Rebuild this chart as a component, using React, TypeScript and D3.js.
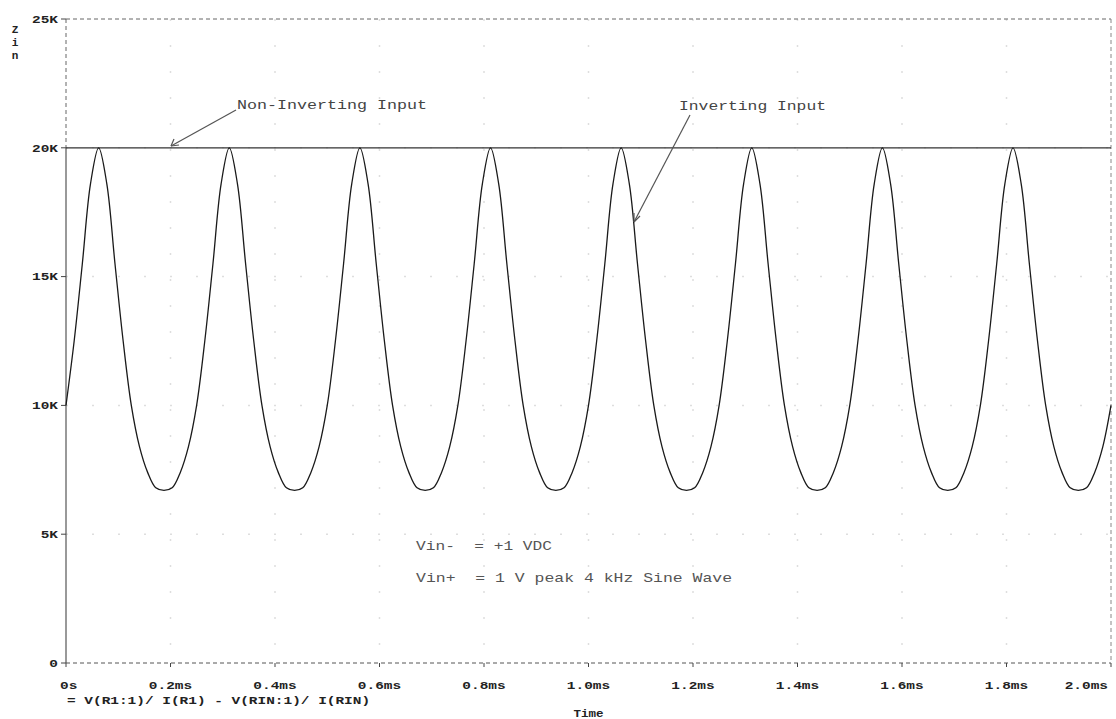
import React from "react";
import * as d3 from "d3";

// Zin (kOhm) sampled every 0.015625 ms (1/16 of the 4 kHz period)
const zinInverting: number[] = [
  10, 12.5, 15.5, 18.6, 20, 18.6, 15.5, 12.5, 10, 8.4, 7.4, 6.8, 6.7, 6.8, 7.4, 8.4,
  10, 12.5, 15.5, 18.6, 20, 18.6, 15.5, 12.5, 10, 8.4, 7.4, 6.8, 6.7, 6.8, 7.4, 8.4,
  10, 12.5, 15.5, 18.6, 20, 18.6, 15.5, 12.5, 10, 8.4, 7.4, 6.8, 6.7, 6.8, 7.4, 8.4,
  10, 12.5, 15.5, 18.6, 20, 18.6, 15.5, 12.5, 10, 8.4, 7.4, 6.8, 6.7, 6.8, 7.4, 8.4,
  10, 12.5, 15.5, 18.6, 20, 18.6, 15.5, 12.5, 10, 8.4, 7.4, 6.8, 6.7, 6.8, 7.4, 8.4,
  10, 12.5, 15.5, 18.6, 20, 18.6, 15.5, 12.5, 10, 8.4, 7.4, 6.8, 6.7, 6.8, 7.4, 8.4,
  10, 12.5, 15.5, 18.6, 20, 18.6, 15.5, 12.5, 10, 8.4, 7.4, 6.8, 6.7, 6.8, 7.4, 8.4,
  10, 12.5, 15.5, 18.6, 20, 18.6, 15.5, 12.5, 10, 8.4, 7.4, 6.8, 6.7, 6.8, 7.4, 8.4,
  10,
];
const sampleStepMs = 0.015625;
const zinNonInverting: number[] = [20, 20];
const nonInvTimes: number[] = [0, 2.0];

const xTicks: number[] = [0, 0.2, 0.4, 0.6, 0.8, 1.0, 1.2, 1.4, 1.6, 1.8, 2.0];
const xTickLabels: string[] = ["0s", "0.2ms", "0.4ms", "0.6ms", "0.8ms", "1.0ms", "1.2ms", "1.4ms", "1.6ms", "1.8ms", "2.0ms"];
const yTicks: number[] = [0, 5, 10, 15, 20, 25];
const yTickLabels: string[] = ["0", "5K", "10K", "15K", "20K", "25K"];

const left = 66, right = 1111, top = 19, bottom = 663;
const mono = "'Liberation Mono', 'DejaVu Sans Mono', monospace";

export default function App() {
  const x = d3.scaleLinear().domain([0, 2.0]).range([left, right]);
  const y = d3.scaleLinear().domain([0, 25]).range([bottom, top]);
  const line = d3
    .line<number>()
    .x((_, i) => x(i * sampleStepMs))
    .y((d) => y(d))
    .curve(d3.curveCatmullRom);
  const flat = d3
    .line<number>()
    .x((_, i) => x(nonInvTimes[i]))
    .y((d) => y(d));

  const cw = 8.66;
  const n = xTicks.length;
  return (
    <svg width={1116} height={719} style={{ position: "absolute", left: 0, top: 0, background: "#fff" }}>
      {/* grid dots */}
      {xTicks.slice(1, -1).map((t) => (
        <line key={"gx" + t} x1={x(t)} x2={x(t)} y1={top} y2={bottom} stroke="#dedede" strokeWidth={1.5} strokeDasharray="2,24" />
      ))}
      {yTicks.slice(1, -1).map((v) => (
        <line key={"gy" + v} x1={left} x2={right} y1={y(v)} y2={y(v)} stroke="#dedede" strokeWidth={1.5} strokeDasharray="2,24" />
      ))}
      {/* frame */}
      <line x1={left} x2={right} y1={top} y2={top} stroke="#666" strokeDasharray="4,3" />
      <line x1={right} x2={right} y1={top} y2={bottom} stroke="#888" strokeDasharray="4,3" />
      <line x1={left} x2={right} y1={bottom} y2={bottom} stroke="#555" strokeDasharray="4,3" />
      <line x1={left} x2={left} y1={top} y2={y(20)} stroke="#666" strokeDasharray="4,3" />
      <line x1={left} x2={left} y1={y(20)} y2={bottom} stroke="#555" strokeWidth={1.2} />
      {/* ticks */}
      {yTicks.map((v, i) => (
        <g key={"yt" + v}>
          <line x1={left - 5} x2={left} y1={y(v)} y2={y(v)} stroke="#444" />
          <text x={58} y={y(v)} dy="0.35em" textAnchor="end" fontFamily={mono} fontWeight="bold" fontSize={11} fill="#222"
            textLength={yTickLabels[i].length * cw} lengthAdjust="spacingAndGlyphs">{yTickLabels[i]}</text>
        </g>
      ))}
      {xTicks.map((t, i) => (
        <g key={"xt" + t}>
          <line x1={x(t)} x2={x(t)} y1={bottom} y2={bottom + 4} stroke="#444" />
          <text x={i === 0 ? x(t) - 6 : i === n - 1 ? x(t) - 3 : x(t)} y={685} dy="0.35em"
            textAnchor={i === 0 ? "start" : i === n - 1 ? "end" : "middle"} fontFamily={mono}
            fontWeight="bold" fontSize={11} fill="#222" textLength={xTickLabels[i].length * cw} lengthAdjust="spacingAndGlyphs">{xTickLabels[i]}</text>
        </g>
      ))}
      <text x={67} y={700} dy="0.35em" fontFamily={mono} fontWeight="bold" fontSize={11} fill="#222"
        textLength={35 * cw} lengthAdjust="spacingAndGlyphs">= V(R1:1)/ I(R1) - V(RIN:1)/ I(RIN)</text>
      <text x={x(1.0)} y={713} dy="0.35em" textAnchor="middle" fontFamily={mono} fontWeight="bold" fontSize={10} fill="#222"
        textLength={30} lengthAdjust="spacingAndGlyphs">Time</text>
      {/* y label stacked */}
      {["Z", "i", "n"].map((c, i) => (
        <text key={c} x={15} y={29 + i * 13} dy="0.35em" textAnchor="middle" fontFamily={mono} fontWeight="bold" fontSize={11} fill="#222">{c}</text>
      ))}
      {/* traces */}
      <path d={flat(zinNonInverting) ?? ""} fill="none" stroke="#333" strokeWidth={1.3} />
      <path d={line(zinInverting) ?? ""} fill="none" stroke="#1a1a1a" strokeWidth={1.3} />
      {/* annotations */}
      <text x={237} y={104} dy="0.35em" fontFamily={mono} fontSize={13} fill="#444"
        textLength={190} lengthAdjust="spacingAndGlyphs">Non-Inverting Input</text>
      <line x1={236} y1={110} x2={171} y2={146} stroke="#555" strokeWidth={1.2} />
      <path d="M171,146 l8,-1 M171,146 l3,-7" stroke="#555" strokeWidth={1.2} fill="none" />
      <text x={679} y={105} dy="0.35em" fontFamily={mono} fontSize={13} fill="#444"
        textLength={147} lengthAdjust="spacingAndGlyphs">Inverting Input</text>
      <line x1={690} y1={115} x2={634} y2={222} stroke="#555" strokeWidth={1.2} />
      <path d="M634,222 l0,-9 M634,222 l6,-6" stroke="#555" strokeWidth={1.2} fill="none" />
      <text x={416} y={545} dy="0.35em" fontFamily={mono} fontSize={13} fill="#555" style={{ whiteSpace: "pre" }}
        textLength={136} lengthAdjust="spacingAndGlyphs">{"Vin-  = +1 VDC"}</text>
      <text x={416} y={577} dy="0.35em" fontFamily={mono} fontSize={13} fill="#555" style={{ whiteSpace: "pre" }}
        textLength={316} lengthAdjust="spacingAndGlyphs">{"Vin+  = 1 V peak 4 kHz Sine Wave"}</text>
    </svg>
  );
}
